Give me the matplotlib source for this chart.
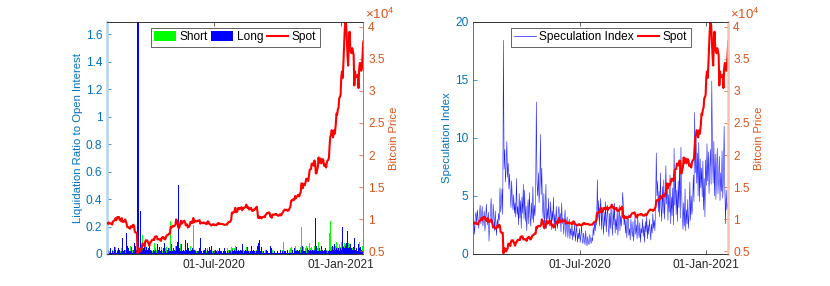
import numpy as np
import matplotlib
matplotlib.use('Agg')
import matplotlib.pyplot as plt
import matplotlib.dates as mdates
import matplotlib.ticker as mticker
from matplotlib.lines import Line2D
from matplotlib.patches import Patch

plt.rcParams['font.family'] = ['Liberation Sans', 'DejaVu Sans']
plt.rcParams['mathtext.fontset'] = 'custom'
plt.rcParams['mathtext.rm'] = 'Liberation Sans'

BLUE_AX = '#0072BD'
ORANGE_AX = '#D95319'
GREY = '#262626'

# daily data, first day 28-Jan-2020
start_day = '2020-01-28'

spot = [9390, 9290, 9500, 9350,
        9390, 9340, 9290, 9180, 9620, 9730, 9800, 9900, 10170, 9850, 10270, 10350, 10240, 10360, 9900,
        9930, 9700, 10190, 9600, 9610, 9690, 9660, 9970, 9650, 9320, 8790, 8790, 8670, 8600,
        8530, 8920, 8760, 8760, 9080, 9150, 8900, 8040, 7940, 7910, 7910, 4700, 5560, 5200, 5390, 5010,
        5330, 5410, 6190, 6200, 6190, 5830, 6470, 6740, 6680, 6730, 6370, 6240, 5880, 6390, 6410,
        6640, 6800, 6740, 6870, 6770, 7290, 7200, 7370, 7300, 6860, 6880, 6910, 6860, 6880, 6640,
        7120, 7100, 7260, 7190, 6880, 6880, 7120, 7480, 7510, 7540, 7700, 7790, 7760, 8800, 8660,
        8860, 8990, 8910, 8890, 9030, 9160, 9990, 9810, 9540, 8730, 8600, 8820, 9310, 9790, 9320, 9380,
        9670, 9730, 9780, 9510, 9060, 9170, 9180, 8720, 8900, 8840, 9200, 9580, 9430, 9700, 9450,
        10200, 9520, 9660, 9800, 9660, 9670, 9750, 9780, 9780, 9880, 9320, 9480, 9480, 9390, 9450,
        9530, 9460, 9380, 9300, 9360, 9290, 9690, 9630, 9300, 9250, 9160, 9010, 9120, 9190, 9140,
        9230, 9090, 9070, 9130, 9080, 9340, 9250, 9430, 9240, 9290, 9240, 9300, 9240, 9260, 9200, 9130,
        9150, 9170, 9210, 9160, 9390, 9540, 9610, 9550, 9710, 9930, 11030, 10940, 11110, 11110, 11350,
        11800, 11070, 11230, 11190, 11740, 11770, 11600, 11750, 11680, 11880, 11410, 11580, 11780, 11770,
        11870, 11910, 12290, 11960, 11760, 11860, 11520, 11670, 11660, 11770, 11330, 11460, 11320, 11540,
        11500, 11710, 11680,
        11970, 11410, 10250, 10510, 10170, 10280, 10370, 10130, 10240, 10360, 10400, 10440, 10330, 10680,
        10790, 10970, 10950, 10940, 11090, 10920, 10420, 10540, 10240, 10740, 10690, 10730, 10770, 10710,
        10840, 10780,
        10620, 10570, 10550, 10670, 10790, 10600, 10670, 10920, 11060, 11300, 11370, 11540, 11430, 11430,
        11500, 11320, 11360, 11480, 11740, 11920, 12820, 12970, 12930, 13120, 13030, 13070, 13640, 13270,
        13460, 13560, 13800,
        13740, 13550, 14030, 14150, 15590, 15580, 14830, 15480, 15330, 15300, 15700, 16290, 16330, 16070,
        15960, 16720, 17650, 17800, 17820, 18650, 18700, 18420, 18360, 19160, 18720, 17150, 17140, 17720,
        18180, 19620,
        18800, 19200, 19450, 18700, 19150, 19360, 19170, 18320, 18550, 18260, 18050, 18800, 19140, 19250,
        19440, 21380, 22800, 23130, 23870, 23480, 22740, 23820, 23240, 23730, 24710, 26440, 26280, 27080,
        27360, 28840, 29000,
        29370, 32130, 33000, 32020, 34040, 36820, 39370, 40700, 40250, 38350, 35570, 33920, 37320, 39190,
        36830, 36070, 35840, 36630, 36070, 35550, 30830, 33000, 32100, 32290, 32260, 32500, 30430, 33470,
        34320, 34270, 33110,
        33540, 35510, 37670]

spec_index = [3.9, 2.6, 1.7, 3.3,
              3.6, 2.5, 3.8, 3.0, 2.2, 3.4, 4.2, 2.6, 3.1, 4.1, 2.4, 3.0, 3.7, 2.0, 2.8, 4.3, 3.2, 2.5, 3.6, 1.1,
              2.7, 3.4, 4.8, 3.0, 2.2, 4.3, 3.1, 2.0, 3.7,
              2.6, 1.6, 3.0, 2.4, 3.5, 2.9, 5.7, 3.6, 4.3, 5.6, 3.4, 18.4, 7.3, 9.0, 6.2, 7.5, 9.7, 6.6, 7.8, 5.6,
              6.9, 5.2, 4.0, 6.3, 4.6, 3.8, 5.1, 3.5, 4.4, 3.2, 6.5,
              3.4, 4.1, 2.5, 5.2, 3.1, 4.6, 2.2, 4.9, 3.5, 6.0, 3.0, 5.5, 2.8, 4.1, 2.0, 3.6, 4.7, 2.6, 5.3, 3.2,
              2.4, 4.4, 3.0, 5.8, 2.7, 4.2, 3.3, 5.0, 13.1, 6.1,
              5.0, 7.0, 4.4, 5.6, 10.3, 5.1, 7.4, 4.0, 3.1, 5.2, 2.5, 3.6, 6.0, 2.2, 3.9, 3.0, 4.8, 2.4, 3.3, 4.5,
              2.1, 3.7, 2.9, 4.9, 2.3, 3.4, 2.0, 4.1, 3.0, 2.2, 3.6,
              4.1, 2.7, 3.5, 1.9, 4.4, 2.6, 3.1, 1.7, 2.9, 3.8, 1.5, 2.6, 3.2, 1.4, 2.4, 3.0, 1.3, 2.2, 1.6, 2.8,
              1.2, 2.0, 1.5, 2.7, 1.1, 1.9, 2.4, 1.0, 1.8, 1.3,
              2.2, 1.0, 1.6, 2.5, 1.2, 0.9, 1.8, 1.3, 0.8, 2.0, 1.1, 0.7, 1.5, 1.0, 0.8, 1.7, 1.2, 0.9, 1.4, 1.1,
              2.3, 1.6, 2.8, 2.0, 3.4, 2.5, 6.4, 3.1, 4.6, 2.4, 3.8,
              4.8, 2.1, 4.0, 2.8, 1.7, 3.6, 2.4, 4.5, 1.9, 3.2, 4.2, 2.3, 1.5, 3.5, 2.2, 4.1, 2.8, 1.6, 3.9, 2.5,
              4.4, 1.8, 3.0, 2.1, 3.8, 1.6, 2.7, 4.2, 2.0, 3.3, 2.4,
              3.9, 5.3, 4.1, 2.5, 3.2, 1.8, 2.9, 1.4, 2.6, 3.4, 1.6, 2.2, 1.2, 3.0, 2.1, 1.5, 2.8, 1.1, 2.3, 3.2,
              1.7, 2.5, 1.3, 3.1, 2.0, 1.4, 2.7, 1.0, 2.2, 1.8,
              3.0, 1.5, 2.4, 1.0, 2.8, 1.9, 3.3, 1.3, 2.5, 1.7, 3.0, 2.1, 1.2, 2.6, 1.8, 3.5, 2.2, 2.9, 2.0, 4.0,
              8.7, 5.0, 6.3, 3.6, 5.4, 3.2, 7.0, 4.1, 2.8, 5.8, 3.5,
              6.4, 3.0, 4.6, 7.6, 4.3, 6.0, 2.9, 5.1, 3.6, 6.8, 2.6, 4.9, 3.3, 5.7, 2.5, 9.1, 4.2, 7.2, 3.4, 5.5,
              2.8, 6.3, 4.0, 8.0, 3.1, 9.2, 5.3, 3.5, 2.1, 4.4,
              2.4, 5.6, 2.0, 3.8, 2.6, 4.7, 2.2, 3.5, 6.2, 2.9, 5.0, 3.4, 4.1, 6.8, 4.5, 12.2, 7.0, 10.5, 6.1, 8.7,
              5.0, 9.6, 4.5, 8.2, 5.7, 7.4, 4.9, 8.0, 3.8, 6.5, 3.2,
              8.1, 5.9, 9.5, 6.3, 8.8, 5.2, 7.4, 9.0, 6.0, 14.9, 8.5, 6.1, 9.7, 5.0, 8.6, 4.7, 7.3, 9.1, 5.2, 6.8,
              8.4, 4.6, 7.0, 5.4, 8.9, 4.8, 6.6, 11.0, 5.8, 2.6, 5.5,
              3.8, 4.4, 3.9]

long_liq = [0.02, 0.01, 0.03, 0.01,
            0.02, 0.04, 0.01, 0.03, 0.02, 0.01, 0.05, 0.02, 0.03, 0.01, 0.10, 0.02, 0.04, 0.09, 0.03, 0.01,
            0.12, 0.02, 0.12, 0.04, 0.02, 0.03, 0.01, 0.05, 0.15, 0.06, 0.03, 0.04, 0.02,
            0.03, 0.02, 0.05, 0.02, 0.01, 0.03, 0.04, 0.08, 0.06, 0.03, 0.05, 1.75, 1.75, 1.30, 0.04, 0.31,
            0.09, 0.05, 0.03, 0.18, 0.04, 0.07, 0.03, 0.02, 0.05, 0.03, 0.06, 0.04, 0.08, 0.02, 0.03,
            0.02, 0.04, 0.01, 0.03, 0.05, 0.02, 0.03, 0.01, 0.04, 0.07, 0.03, 0.02, 0.05, 0.02, 0.06, 0.03,
            0.01, 0.02, 0.04, 0.08, 0.03, 0.02, 0.01, 0.03, 0.02, 0.04, 0.02, 0.01, 0.02, 0.07,
            0.03, 0.02, 0.04, 0.02, 0.03, 0.02, 0.04, 0.06, 0.09, 0.50, 0.11, 0.04, 0.02, 0.03, 0.07, 0.02,
            0.01, 0.03, 0.02, 0.05, 0.10, 0.03, 0.02, 0.08, 0.04, 0.02, 0.01, 0.02, 0.03, 0.02, 0.04,
            0.03, 0.09, 0.03, 0.02, 0.04, 0.01, 0.02, 0.03, 0.02, 0.04, 0.12, 0.03, 0.02, 0.01, 0.05, 0.02,
            0.03, 0.02, 0.04, 0.01, 0.02, 0.03, 0.02, 0.05, 0.04, 0.03, 0.06, 0.02, 0.01, 0.02,
            0.02, 0.01, 0.03, 0.01, 0.02, 0.01, 0.03, 0.02, 0.04, 0.02, 0.01, 0.02, 0.01, 0.03, 0.02, 0.04,
            0.01, 0.02, 0.01, 0.03, 0.02, 0.01, 0.02, 0.03, 0.02, 0.01, 0.02, 0.03, 0.02, 0.04, 0.03,
            0.02, 0.25, 0.05, 0.02, 0.01, 0.03, 0.02, 0.01, 0.03, 0.02, 0.07, 0.02, 0.01, 0.02, 0.01, 0.03,
            0.02, 0.04, 0.05, 0.02, 0.04, 0.01, 0.02, 0.03, 0.06, 0.02, 0.03, 0.01, 0.02, 0.01, 0.02,
            0.02, 0.06, 0.28, 0.08, 0.10, 0.03, 0.02, 0.05, 0.02, 0.01, 0.02, 0.01, 0.02, 0.01, 0.03, 0.01,
            0.02, 0.01, 0.02, 0.01, 0.06, 0.02, 0.04, 0.01, 0.02, 0.01, 0.02, 0.01, 0.02, 0.01,
            0.02, 0.04, 0.01, 0.01, 0.02, 0.03, 0.01, 0.01, 0.02, 0.01, 0.02, 0.01, 0.02, 0.01, 0.02, 0.03,
            0.01, 0.02, 0.01, 0.01, 0.02, 0.01, 0.03, 0.02, 0.01, 0.04, 0.02, 0.05, 0.02, 0.03, 0.02,
            0.02, 0.03, 0.02, 0.01, 0.03, 0.02, 0.06, 0.02, 0.03, 0.02, 0.02, 0.01, 0.03, 0.04, 0.03, 0.02,
            0.02, 0.03, 0.05, 0.02, 0.03, 0.04, 0.02, 0.03, 0.08, 0.26, 0.06, 0.02, 0.03, 0.02,
            0.04, 0.03, 0.02, 0.06, 0.02, 0.03, 0.02, 0.07, 0.03, 0.04, 0.05, 0.02, 0.01, 0.02, 0.01, 0.03,
            0.02, 0.04, 0.03, 0.06, 0.08, 0.03, 0.07, 0.02, 0.03, 0.04, 0.05, 0.03, 0.04, 0.02, 0.03,
            0.04, 0.03, 0.06, 0.20, 0.05, 0.03, 0.04, 0.06, 0.05, 0.08, 0.17, 0.09, 0.04, 0.05, 0.07, 0.03,
            0.04, 0.03, 0.04, 0.05, 0.12, 0.05, 0.03, 0.04, 0.03, 0.02, 0.07, 0.04, 0.03, 0.05, 0.03,
            0.04, 0.02, 0.03]

short_liq = [0.01, 0.02, 0.01, 0.02,
             0.01, 0.02, 0.01, 0.01, 0.03, 0.02, 0.04, 0.02, 0.05, 0.01, 0.02, 0.03, 0.01, 0.02, 0.01, 0.02,
             0.01, 0.04, 0.01, 0.02, 0.01, 0.02, 0.03, 0.01, 0.01, 0.02, 0.01, 0.02, 0.01,
             0.01, 0.06, 0.02, 0.01, 0.03, 0.02, 0.01, 0.01, 0.02, 0.01, 0.01, 0.02, 0.08, 0.04, 0.03, 0.02,
             0.05, 0.04, 0.14, 0.06, 0.03, 0.02, 0.09, 0.07, 0.03, 0.02, 0.01, 0.02, 0.01, 0.06, 0.02,
             0.03, 0.04, 0.02, 0.03, 0.01, 0.08, 0.04, 0.03, 0.02, 0.01, 0.02, 0.03, 0.01, 0.02, 0.01, 0.05,
             0.02, 0.03, 0.01, 0.01, 0.02, 0.04, 0.05, 0.02, 0.02, 0.03, 0.04, 0.03, 0.24, 0.05,
             0.04, 0.03, 0.02, 0.01, 0.03, 0.06, 0.12, 0.04, 0.02, 0.01, 0.01, 0.03, 0.07, 0.09, 0.02, 0.02,
             0.04, 0.03, 0.02, 0.01, 0.01, 0.02, 0.02, 0.01, 0.02, 0.01, 0.04, 0.06, 0.02, 0.05, 0.02,
             0.21, 0.03, 0.02, 0.03, 0.01, 0.02, 0.02, 0.01, 0.02, 0.03, 0.01, 0.02, 0.01, 0.01, 0.02, 0.03,
             0.01, 0.02, 0.01, 0.02, 0.01, 0.04, 0.01, 0.01, 0.01, 0.02, 0.01, 0.01, 0.02, 0.01,
             0.02, 0.01, 0.01, 0.02, 0.01, 0.03, 0.01, 0.02, 0.01, 0.01, 0.01, 0.02, 0.01, 0.01, 0.01, 0.01,
             0.01, 0.02, 0.01, 0.01, 0.04, 0.03, 0.04, 0.02, 0.03, 0.05, 0.16, 0.04, 0.02, 0.03, 0.04,
             0.06, 0.02, 0.03, 0.01, 0.04, 0.02, 0.01, 0.02, 0.01, 0.03, 0.01, 0.02, 0.03, 0.01, 0.02, 0.02,
             0.05, 0.01, 0.01, 0.02, 0.01, 0.02, 0.01, 0.01, 0.01, 0.02, 0.01, 0.02, 0.01, 0.02, 0.01,
             0.03, 0.01, 0.01, 0.02, 0.01, 0.01, 0.02, 0.01, 0.01, 0.02, 0.01, 0.01, 0.01, 0.03, 0.02, 0.02,
             0.01, 0.01, 0.02, 0.01, 0.01, 0.01, 0.01, 0.03, 0.01, 0.01, 0.01, 0.01, 0.02, 0.01,
             0.01, 0.01, 0.01, 0.01, 0.02, 0.01, 0.01, 0.04, 0.03, 0.09, 0.02, 0.03, 0.01, 0.01, 0.02, 0.01,
             0.01, 0.02, 0.03, 0.04, 0.18, 0.05, 0.02, 0.03, 0.01, 0.02, 0.06, 0.02, 0.03, 0.02, 0.04,
             0.02, 0.01, 0.04, 0.05, 0.20, 0.04, 0.02, 0.05, 0.02, 0.01, 0.04, 0.06, 0.02, 0.01, 0.02, 0.07,
             0.08, 0.04, 0.02, 0.05, 0.03, 0.02, 0.03, 0.06, 0.03, 0.01, 0.02, 0.04, 0.03, 0.09,
             0.03, 0.04, 0.03, 0.02, 0.03, 0.02, 0.01, 0.02, 0.03, 0.01, 0.02, 0.03, 0.02, 0.02, 0.04, 0.15,
             0.24, 0.06, 0.05, 0.03, 0.02, 0.05, 0.02, 0.03, 0.06, 0.09, 0.03, 0.05, 0.04, 0.07, 0.04,
             0.05, 0.09, 0.06, 0.03, 0.06, 0.10, 0.08, 0.07, 0.03, 0.02, 0.02, 0.03, 0.08, 0.07, 0.03, 0.02,
             0.03, 0.04, 0.13, 0.02, 0.03, 0.06, 0.03, 0.02, 0.04, 0.02, 0.03, 0.09, 0.06, 0.02, 0.03,
             0.04, 0.06, 0.05]

x_ticks = ['2020-07-01', '2021-01-01']


def day_axis(values):
    return np.datetime64(start_day) + np.arange(len(values))


def style_pair(ax, ax2, left_label, left_spine, right_spine):
    ax.set_ylabel(left_label, color=BLUE_AX, fontsize=8.2, labelpad=2)
    ax2.set_ylabel('Bitcoin Price', color=ORANGE_AX, fontsize=8.2, labelpad=3)
    ax.tick_params(axis='y', colors=BLUE_AX, labelsize=8.6, direction='in', length=3, width=0.5)
    ax2.tick_params(axis='y', colors=ORANGE_AX, labelsize=8.6, direction='in', length=3, width=0.5)
    ax.tick_params(axis='x', colors=GREY, labelsize=8.6, direction='in', length=3, width=0.5,
                   top=True)
    for a in (ax, ax2):
        for sp in a.spines.values():
            sp.set_linewidth(0.5)
            sp.set_color(GREY)
    # MATLAB draws these spines as a pale, wider band
    ax.spines['left'].set_color(left_spine[0])
    ax.spines['left'].set_linewidth(left_spine[1])
    ax2.spines['left'].set_visible(False)
    ax2.spines['right'].set_color(right_spine[0])
    ax2.spines['right'].set_linewidth(right_spine[1])
    ax.spines['right'].set_visible(False)
    ax.xaxis.set_major_locator(mticker.FixedLocator(
        mdates.date2num(np.array(x_ticks, dtype='datetime64[D]'))))
    ax.xaxis.set_major_formatter(mdates.DateFormatter('%d-%b-%Y'))
    ax.yaxis.set_major_formatter(mticker.FormatStrFormatter('%g'))
    ax2.set_ylim(4600, 40750)
    ax2.set_yticks(np.arange(5000, 40001, 5000))
    ax2.yaxis.set_major_formatter(mticker.FuncFormatter(lambda v, p: '%g' % (v / 1e4)))
    ax2.text(1.005, 1.0, r'$\times\mathregular{10^{4}}$', transform=ax2.transAxes, ha='left',
             va='bottom', color=ORANGE_AX, fontsize=9.5)


fig = plt.figure(figsize=(8.3, 2.86), dpi=100)

# left panel: liquidations vs spot
ax = fig.add_axes([0.1293, 0.1119, 0.3084, 0.8122])
ax.bar(day_axis(short_liq), short_liq, width=1.0, color='#00FF00', linewidth=0)
ax.bar(day_axis(long_liq), long_liq, width=1.0, color='#0000FF', linewidth=0)
ax.set_ylim(0, 1.69)
ax.set_yticks(np.arange(0, 1.61, 0.2))
ax2 = ax.twinx()
ax2.plot(day_axis(spot), spot, color='red', lw=1.5)
ax.set_xlim(day_axis(spot)[0], day_axis(spot)[-1])
style_pair(ax, ax2, 'Liquidation Ratio to Open Interest', ('#b3d4ec', 1.8), (ORANGE_AX, 0.6))
handles = [Patch(facecolor='#00FF00', edgecolor='none'), Patch(facecolor='#0000FF', edgecolor='none'),
           Line2D([], [], color='red', lw=1.5)]
leg = ax2.legend(handles, ['Short', 'Long', 'Spot'], loc='upper center', ncol=3, fontsize=8.6,
                 frameon=True, fancybox=False, edgecolor=GREY, framealpha=1,
                 handlelength=1.8, handleheight=0.9, handletextpad=0.3, columnspacing=0.3,
                 borderpad=0.3, borderaxespad=0.5)
leg.get_frame().set_linewidth(0.5)

# right panel: speculation index vs spot
bx = fig.add_axes([0.5702, 0.1119, 0.3072, 0.8122])
bx.plot(day_axis(spec_index), spec_index, color='#1a1aff', lw=0.4)
bx.set_ylim(0, 20)
bx.set_yticks([0, 5, 10, 15, 20])
bx2 = bx.twinx()
bx2.plot(day_axis(spot), spot, color='red', lw=1.5)
bx.set_xlim(day_axis(spot)[0], day_axis(spot)[-1])
style_pair(bx, bx2, 'Speculation Index', (BLUE_AX, 0.6), ('#f2c4b0', 1.8))
handles = [Line2D([], [], color='#1a1aff', lw=0.5), Line2D([], [], color='red', lw=1.5)]
leg = bx2.legend(handles, ['Speculation Index', 'Spot'], loc='upper center', ncol=2, fontsize=8.6,
                 frameon=True, fancybox=False, edgecolor=GREY, framealpha=1,
                 handlelength=1.8, handletextpad=0.3, columnspacing=0.3,
                 borderpad=0.3, borderaxespad=0.5)
leg.get_frame().set_linewidth(0.5)

fig.savefig('out.png', dpi=100)
